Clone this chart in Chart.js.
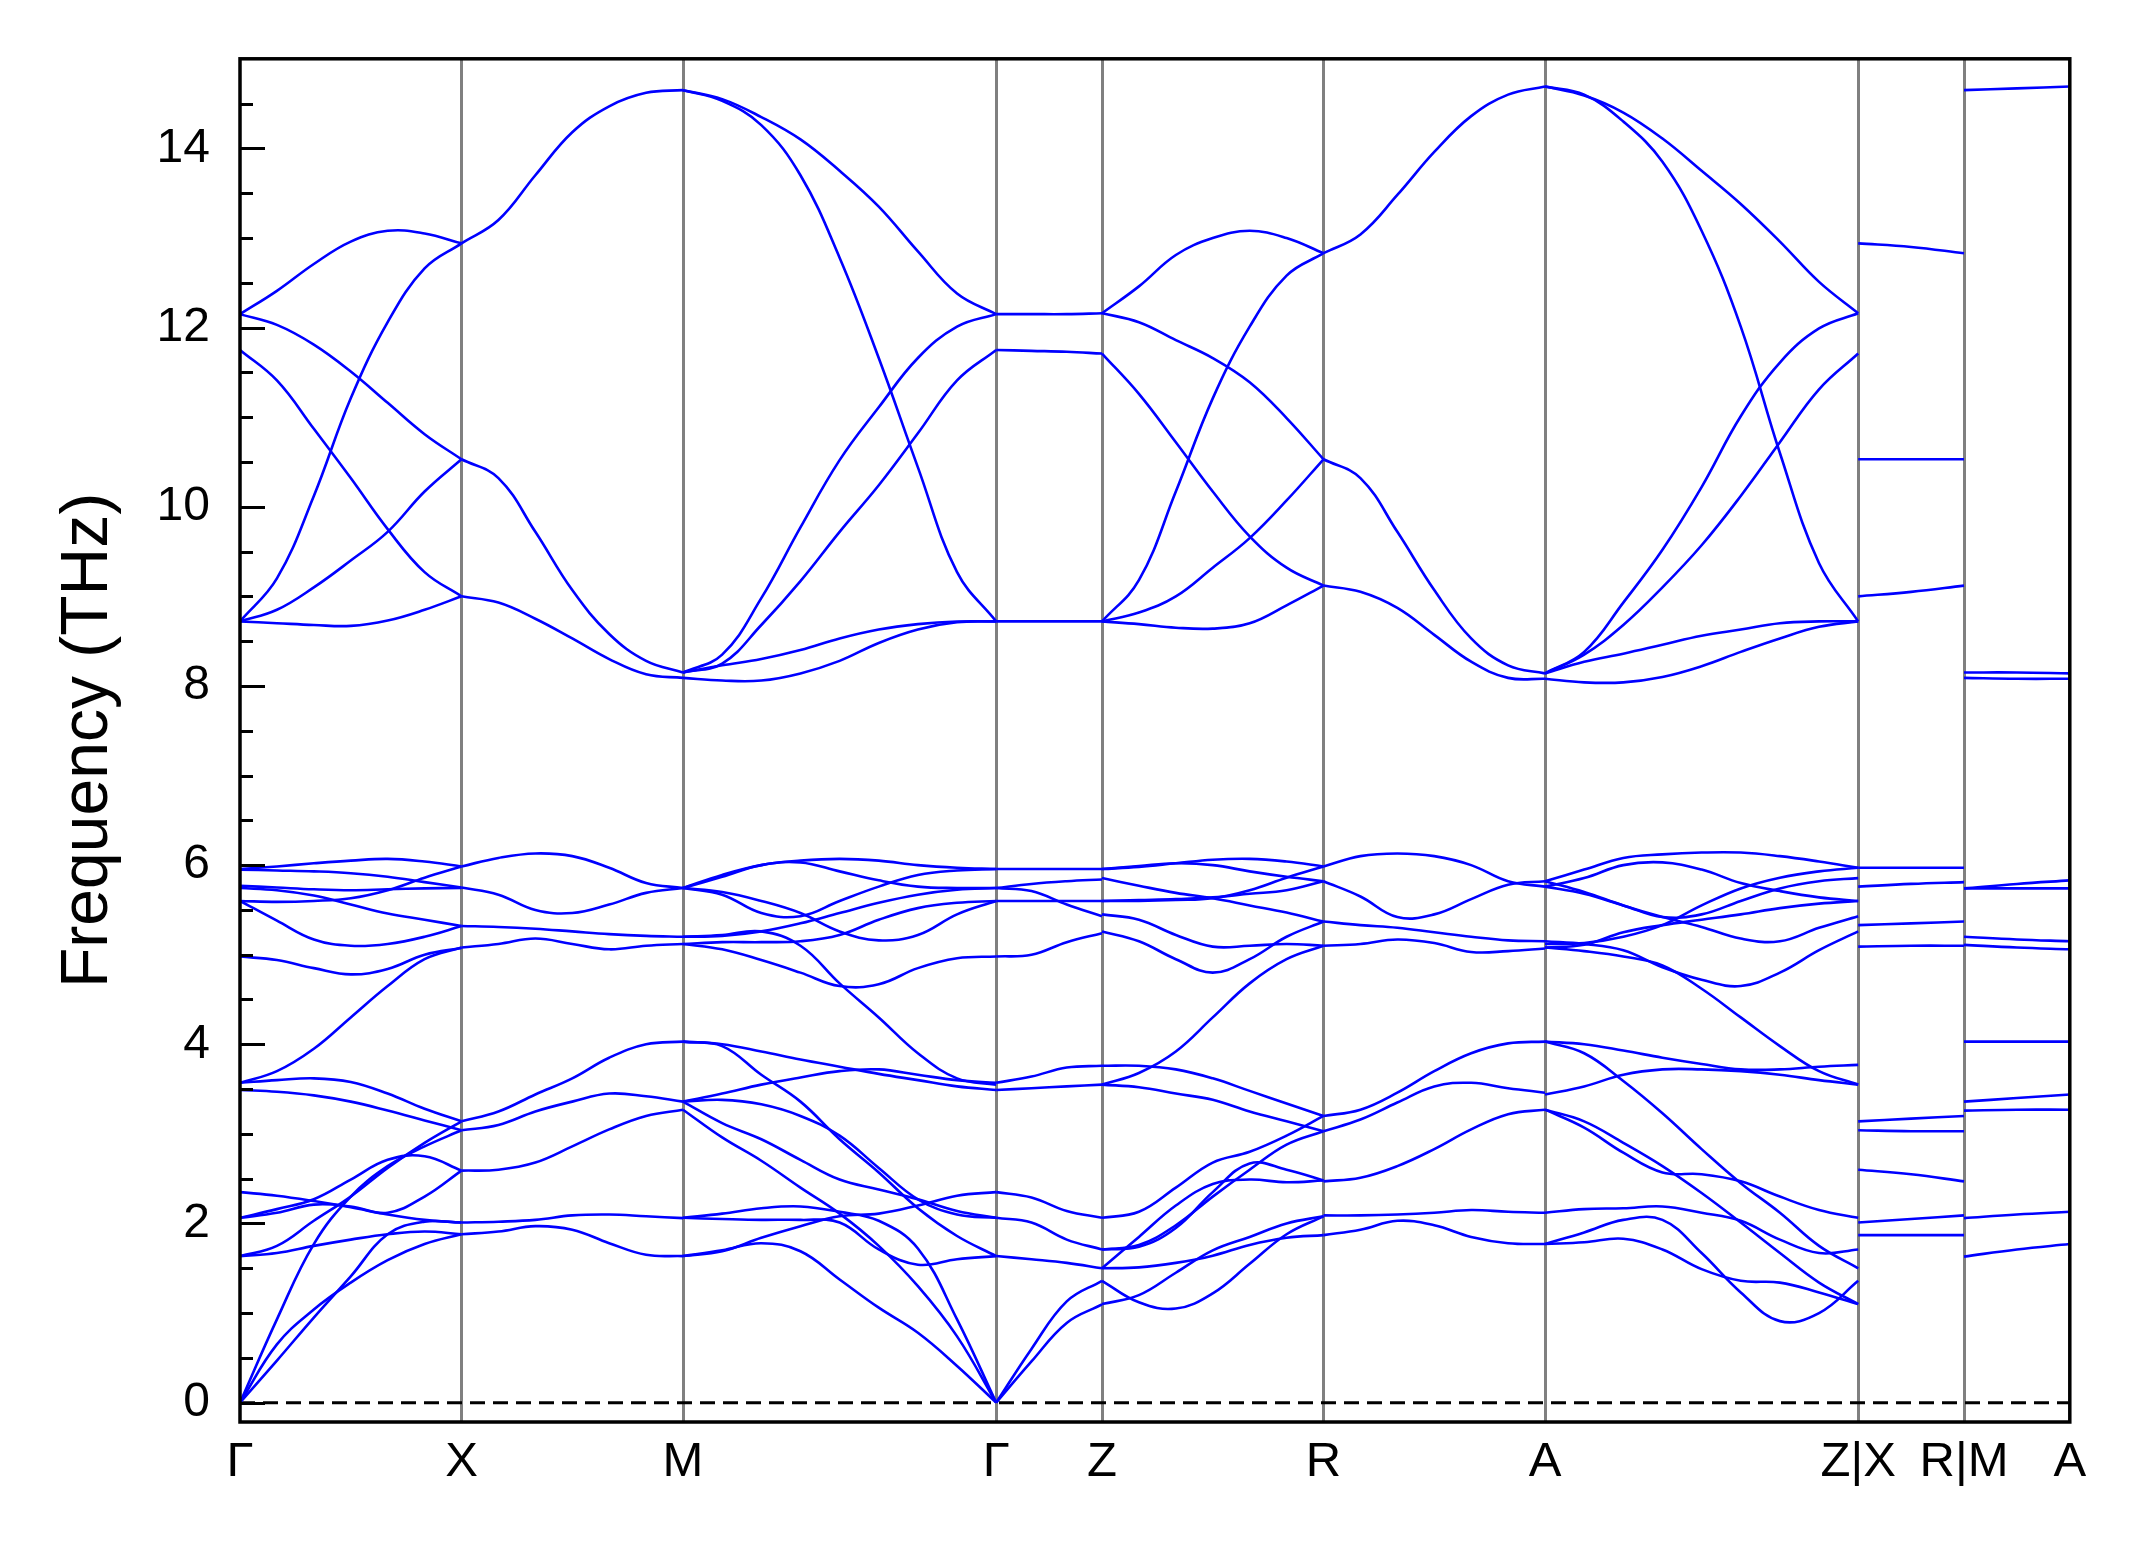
<!DOCTYPE html>
<html>
<head>
<meta charset="utf-8">
<title>Phonon bands</title>
<script src="https://cdn.jsdelivr.net/npm/chart.js@4.4.1/dist/chart.umd.min.js"></script>
<style>
  html, body { margin: 0; padding: 0; background: #fff; }
  #wrap { width: 2145px; height: 1549px; }
</style>
</head>
<body>
<div id="wrap"><canvas id="bandChart" width="2145" height="1549"></canvas></div>
<script>
// path through the BZ (x in path length units)
const kLabels = ["Γ", "X", "M", "Γ", "Z", "R", "A", "Z|X", "R|M", "A"];
const kPos = [0, 221.5, 443, 756.2, 862, 1083.5, 1305, 1618.2, 1724, 1829.8];
const yTicks = [0, 2, 4, 6, 8, 10, 12, 14];

// bands per segment, values in THz, evenly spaced along each segment
const gxBands = [
  [12.15, 12.41, 12.71, 12.96, 13.08, 13.05, 12.94],
  [12.15, 12.03, 11.81, 11.51, 11.16, 10.81, 10.53],
  [11.75, 11.41, 10.87, 10.32, 9.75, 9.27, 9.0],
  [8.72, 9.2, 10.12, 11.21, 12.06, 12.66, 12.94],
  [8.72, 8.85, 9.1, 9.4, 9.72, 10.17, 10.53],
  [8.72, 8.7, 8.68, 8.67, 8.73, 8.85, 9.0],
  [5.956, 5.985, 6.02, 6.05, 6.07, 6.04, 5.985],
  [5.95, 5.94, 5.93, 5.91, 5.87, 5.81, 5.75],
  [5.77, 5.75, 5.73, 5.72, 5.73, 5.74, 5.745],
  [5.744, 5.72, 5.66, 5.56, 5.46, 5.39, 5.32],
  [5.6, 5.59, 5.6, 5.63, 5.72, 5.86, 5.985],
  [5.6, 5.38, 5.17, 5.1, 5.12, 5.2, 5.32],
  [4.98, 4.94, 4.85, 4.78, 4.84, 5.0, 5.075],
  [3.57, 3.7, 3.95, 4.3, 4.65, 4.95, 5.08],
  [3.57, 3.6, 3.62, 3.58, 3.45, 3.28, 3.14],
  [3.49, 3.47, 3.43, 3.36, 3.26, 3.15, 3.04],
  [2.35, 2.31, 2.25, 2.18, 2.1, 2.04, 2.01],
  [2.063, 2.12, 2.21, 2.19, 2.12, 2.3, 2.59],
  [2.063, 2.16, 2.27, 2.49, 2.71, 2.75, 2.59],
  [1.636, 1.75, 2.03, 2.3, 2.62, 2.9, 3.14],
  [1.636, 1.67, 1.75, 1.82, 1.88, 1.91, 1.88],
  [0, 0.93, 1.77, 2.3, 2.64, 2.86, 3.04],
  [0, 0.47, 0.95, 1.41, 1.88, 2.02, 2.01],
  [0, 0.65, 1.04, 1.34, 1.59, 1.77, 1.88]
];

const xmBands = [
  [12.94, 13.2, 13.7, 14.18, 14.47, 14.62, 14.65],
  [10.53, 10.32, 9.72, 9.07, 8.58, 8.28, 8.15],
  [9.0, 8.93, 8.75, 8.53, 8.3, 8.13, 8.09],
  [5.985, 6.08, 6.13, 6.1, 5.97, 5.8, 5.744],
  [5.75, 5.67, 5.5, 5.465, 5.56, 5.69, 5.744],
  [5.32, 5.31, 5.29, 5.26, 5.23, 5.21, 5.2],
  [5.08, 5.12, 5.18, 5.12, 5.06, 5.1, 5.12],
  [3.14, 3.25, 3.44, 3.62, 3.85, 4.0, 4.03],
  [3.04, 3.1, 3.25, 3.36, 3.45, 3.42, 3.36],
  [2.59, 2.6, 2.68, 2.86, 3.05, 3.2, 3.27],
  [2.01, 2.02, 2.04, 2.09, 2.1, 2.08, 2.06],
  [1.88, 1.91, 1.97, 1.93, 1.78, 1.65, 1.636]
];

const mgBands = [
  [14.65, 14.53, 14.26, 13.7, 12.78, 11.66, 10.44, 9.27, 8.72],
  [14.65, 14.55, 14.35, 14.1, 13.75, 13.35, 12.85, 12.38, 12.15],
  [8.15, 8.35, 8.98, 9.77, 10.52, 11.11, 11.66, 12.01, 12.15],
  [8.15, 8.25, 8.68, 9.17, 9.72, 10.24, 10.82, 11.41, 11.75],
  [8.15, 8.23, 8.3, 8.4, 8.53, 8.63, 8.69, 8.72, 8.72],
  [8.09, 8.06, 8.06, 8.14, 8.28, 8.48, 8.63, 8.71, 8.72],
  [5.744, 5.89, 6.0, 6.05, 6.07, 6.05, 6.0, 5.97, 5.956],
  [5.744, 5.87, 6.0, 6.03, 5.93, 5.83, 5.76, 5.744, 5.744],
  [5.744, 5.67, 5.465, 5.43, 5.6, 5.76, 5.89, 5.94, 5.956],
  [5.744, 5.7, 5.6, 5.465, 5.26, 5.16, 5.22, 5.45, 5.6],
  [5.2, 5.21, 5.26, 5.35, 5.465, 5.58, 5.67, 5.725, 5.744],
  [5.12, 5.14, 5.14, 5.15, 5.22, 5.39, 5.52, 5.58, 5.6],
  [5.12, 5.06, 4.94, 4.8, 4.65, 4.67, 4.85, 4.96, 4.98],
  [5.2, 5.22, 5.26, 5.1, 4.68, 4.3, 3.9, 3.62, 3.55],
  [4.03, 4.0, 3.92, 3.83, 3.75, 3.67, 3.6, 3.53, 3.49],
  [3.36, 3.45, 3.55, 3.63, 3.7, 3.72, 3.66, 3.6, 3.57],
  [4.03, 3.98, 3.66, 3.36, 2.94, 2.57, 2.17, 1.86, 1.636],
  [3.36, 3.38, 3.33, 3.2, 2.98, 2.62, 2.27, 2.1, 2.063],
  [3.36, 3.12, 2.94, 2.71, 2.49, 2.38, 2.27, 2.14, 2.063],
  [3.27, 2.96, 2.7, 2.4, 2.11, 1.75, 1.3, 0.74, 0],
  [2.063, 2.11, 2.17, 2.19, 2.13, 2.03, 1.72, 0.93, 0],
  [2.063, 2.05, 2.04, 2.04, 2.01, 1.71, 1.54, 1.6, 1.636],
  [1.636, 1.69, 1.84, 1.97, 2.08, 2.11, 2.2, 2.31, 2.35],
  [1.636, 1.7, 1.78, 1.69, 1.375, 1.06, 0.78, 0.41, 0]
];

const gzBands = [
  [12.15, 12.15, 12.15, 12.16],
  [11.75, 11.74, 11.73, 11.71],
  [8.72, 8.72, 8.72, 8.72],
  [5.956, 5.956, 5.956, 5.956],
  [5.744, 5.79, 5.82, 5.84],
  [5.744, 5.71, 5.56, 5.43],
  [5.6, 5.6, 5.6, 5.6],
  [4.98, 5.0, 5.14, 5.24],
  [3.57, 3.64, 3.74, 3.76],
  [3.49, 3.51, 3.53, 3.55],
  [2.35, 2.29, 2.14, 2.063],
  [2.063, 2.01, 1.82, 1.71],
  [1.636, 1.6, 1.56, 1.5],
  [0, 0.6, 1.13, 1.36],
  [0, 0.46, 0.89, 1.096]
];

const zrBands = [
  [12.16, 12.46, 12.81, 13.0, 13.08, 13.0, 12.83],
  [12.16, 12.06, 11.86, 11.66, 11.39, 10.99, 10.53],
  [11.71, 11.26, 10.72, 10.17, 9.67, 9.32, 9.12],
  [8.72, 9.18, 10.17, 11.21, 12.01, 12.58, 12.83],
  [8.72, 8.82, 9.0, 9.32, 9.65, 10.07, 10.53],
  [8.72, 8.69, 8.65, 8.64, 8.7, 8.9, 9.12],
  [5.956, 5.98, 6.02, 6.06, 6.07, 6.04, 5.985],
  [5.956, 5.99, 6.02, 6.0, 5.93, 5.87, 5.82],
  [5.855, 5.77, 5.69, 5.63, 5.55, 5.47, 5.37],
  [5.6, 5.6, 5.61, 5.63, 5.72, 5.86, 5.985],
  [5.6, 5.61, 5.62, 5.64, 5.68, 5.72, 5.82],
  [5.45, 5.39, 5.22, 5.09, 5.1, 5.12, 5.1],
  [5.26, 5.15, 4.95, 4.8, 4.95, 5.2, 5.37],
  [3.55, 3.68, 3.92, 4.3, 4.68, 4.95, 5.1],
  [3.76, 3.76, 3.72, 3.62, 3.48, 3.34, 3.2],
  [3.55, 3.52, 3.45, 3.38, 3.25, 3.14, 3.03],
  [2.063, 2.13, 2.4, 2.68, 2.8, 2.98, 3.2],
  [1.71, 1.76, 1.98, 2.3, 2.6, 2.88, 3.03],
  [1.71, 1.74, 1.95, 2.35, 2.67, 2.6, 2.48],
  [1.5, 1.85, 2.2, 2.44, 2.49, 2.46, 2.48],
  [1.5, 1.51, 1.56, 1.64, 1.76, 1.84, 1.87],
  [1.36, 1.12, 1.05, 1.22, 1.55, 1.88, 2.08],
  [1.1, 1.2, 1.45, 1.7, 1.85, 2.0, 2.08]
];

const raBands = [
  [12.83, 13.04, 13.48, 13.96, 14.36, 14.6, 14.69],
  [10.53, 10.32, 9.72, 9.07, 8.53, 8.23, 8.14],
  [9.12, 9.05, 8.87, 8.57, 8.27, 8.09, 8.08],
  [5.985, 6.1, 6.13, 6.1, 6.0, 5.82, 5.76],
  [5.82, 5.65, 5.42, 5.45, 5.62, 5.78, 5.82],
  [5.37, 5.33, 5.3, 5.25, 5.2, 5.16, 5.15],
  [5.1, 5.12, 5.17, 5.13, 5.03, 5.04, 5.07],
  [3.2, 3.27, 3.46, 3.7, 3.9, 4.01, 4.03],
  [3.03, 3.16, 3.35, 3.53, 3.57, 3.51, 3.46],
  [2.47, 2.51, 2.64, 2.83, 3.05, 3.22, 3.27],
  [2.09, 2.09, 2.1, 2.12, 2.15, 2.13, 2.12],
  [1.87, 1.93, 2.03, 1.98, 1.85, 1.78, 1.77]
];

const azBands = [
  [14.69, 14.6, 14.3, 13.85, 13.08, 12.01, 10.6, 9.37, 8.72],
  [14.69, 14.59, 14.4, 14.11, 13.75, 13.38, 12.96, 12.51, 12.16],
  [8.14, 8.38, 8.93, 9.52, 10.22, 11.01, 11.61, 11.99, 12.16],
  [8.14, 8.35, 8.68, 9.1, 9.57, 10.12, 10.72, 11.31, 11.71],
  [8.14, 8.27, 8.36, 8.46, 8.56, 8.63, 8.7, 8.72, 8.72],
  [8.08, 8.04, 8.04, 8.1, 8.22, 8.38, 8.53, 8.66, 8.72],
  [5.82, 5.95, 6.08, 6.12, 6.14, 6.14, 6.1, 6.04, 5.97],
  [5.76, 5.855, 6.0, 6.03, 5.95, 5.8, 5.71, 5.64, 5.6],
  [5.82, 5.7, 5.55, 5.42, 5.31, 5.18, 5.15, 5.3, 5.43],
  [5.76, 5.68, 5.55, 5.42, 5.45, 5.6, 5.74, 5.82, 5.855],
  [5.12, 5.13, 5.2, 5.33, 5.55, 5.74, 5.86, 5.93, 5.97],
  [5.08, 5.11, 5.25, 5.33, 5.39, 5.45, 5.52, 5.57, 5.6],
  [5.15, 5.12, 5.05, 4.86, 4.72, 4.65, 4.8, 5.05, 5.26],
  [5.08, 5.04, 4.98, 4.88, 4.62, 4.3, 3.98, 3.7, 3.55],
  [4.03, 4.0, 3.93, 3.85, 3.78, 3.72, 3.72, 3.75, 3.77],
  [3.44, 3.53, 3.66, 3.72, 3.72, 3.7, 3.66, 3.6, 3.55],
  [4.03, 3.9, 3.59, 3.23, 2.83, 2.45, 2.12, 1.75, 1.5],
  [3.27, 3.14, 2.9, 2.64, 2.34, 2.01, 1.67, 1.34, 1.1],
  [3.27, 3.07, 2.79, 2.57, 2.55, 2.47, 2.3, 2.15, 2.063],
  [2.12, 2.16, 2.17, 2.19, 2.12, 2.03, 1.82, 1.67, 1.71],
  [1.77, 1.9, 2.04, 2.04, 1.67, 1.23, 0.91, 1.0, 1.36],
  [1.77, 1.79, 1.83, 1.71, 1.49, 1.36, 1.34, 1.23, 1.1]
];

const xrBands = [
  [12.94, 12.9, 12.83],
  [10.53, 10.53, 10.53],
  [9.0, 9.05, 9.12],
  [5.97, 5.97, 5.97],
  [5.76, 5.79, 5.81],
  [5.33, 5.35, 5.37],
  [5.09, 5.1, 5.1],
  [3.14, 3.17, 3.2],
  [3.04, 3.03, 3.03],
  [2.6, 2.55, 2.47],
  [2.01, 2.05, 2.09],
  [1.87, 1.87, 1.87]
];

const maBands = [
  [14.65, 14.67, 14.69],
  [8.15, 8.15, 8.14],
  [8.09, 8.08, 8.08],
  [5.74, 5.79, 5.83],
  [5.74, 5.74, 5.74],
  [5.2, 5.17, 5.15],
  [5.11, 5.08, 5.06],
  [4.03, 4.03, 4.03],
  [3.36, 3.4, 3.44],
  [3.26, 3.27, 3.27],
  [2.06, 2.1, 2.13],
  [1.63, 1.71, 1.77]
];

const segments = [
  [0, 1, gxBands], [1, 2, xmBands], [2, 3, mgBands],
  [3, 4, gzBands], [4, 5, zrBands], [5, 6, raBands],
  [6, 7, azBands], [7, 8, xrBands], [8, 9, maBands]
];

const fontFam = "'Liberation Sans', Arial, Helvetica, sans-serif";

const datasets = [];
segments.forEach(([a, b, bands]) => {
  const x0 = kPos[a], x1 = kPos[b];
  bands.forEach(vals => {
    const n = vals.length - 1;
    datasets.push({
      data: vals.map((v, i) => ({ x: x0 + (x1 - x0) * i / n, y: v })),
      borderColor: "#0000ff",
      borderWidth: 2.6,
      pointRadius: 0,
      fill: false,
      tension: 0.4
    });
  });
});

// zero line
datasets.push({
  data: [{ x: kPos[0], y: 0 }, { x: kPos[kPos.length - 1], y: 0 }],
  borderColor: "#000",
  borderWidth: 3,
  borderDash: [15, 8],
  pointRadius: 0,
  fill: false
});

// box + inward ticks on the left axis
const framePlugin = {
  id: "frame",
  afterDatasetsDraw(chart) {
    const { ctx, chartArea: a, scales } = chart;
    const y = scales.y;
    ctx.save();
    ctx.strokeStyle = "#000";
    ctx.lineWidth = 3;
    for (let v = 0; v < 15; v += 0.5) {
      const p = Math.round(y.getPixelForValue(v)) + 0.5;
      const len = v % 2 === 0 ? 25 : 13;
      ctx.beginPath();
      ctx.moveTo(a.left, p);
      ctx.lineTo(a.left + len, p);
      ctx.stroke();
    }
    ctx.lineWidth = 3.5;
    ctx.strokeRect(a.left, a.top, a.right - a.left, a.bottom - a.top);
    ctx.restore();
  }
};

new Chart(document.getElementById("bandChart"), {
  type: "line",
  data: { datasets },
  options: {
    responsive: false,
    devicePixelRatio: 1,
    animation: false,
    events: [],
    layout: { padding: { top: 58.6, right: 75.2, bottom: 0, left: 0 } },
    plugins: { legend: { display: false }, tooltip: { enabled: false } },
    scales: {
      x: {
        type: "linear",
        min: kPos[0],
        max: kPos[kPos.length - 1],
        afterBuildTicks: s => { s.ticks = kPos.map(v => ({ value: v })); },
        afterFit: s => { s.height = 127; },
        ticks: {
          autoSkip: false,
          maxRotation: 0,
          padding: 11,
          color: "#000",
          font: { family: fontFam, size: 49 },
          callback: (v, i) => kLabels[i]
        },
        grid: {
          drawTicks: false,
          lineWidth: 3,
          color: c => (c.index === 0 || c.index === kPos.length - 1) ? "rgba(0,0,0,0)" : "#808080"
        },
        border: { display: false }
      },
      y: {
        min: -0.216,
        max: 15,
        afterBuildTicks: s => { s.ticks = yTicks.map(v => ({ value: v })); },
        afterFit: s => { s.width = 240; },
        ticks: {
          padding: 30,
          color: "#000",
          font: { family: fontFam, size: 48 }
        },
        grid: { display: false, drawTicks: false },
        border: { display: false },
        title: {
          display: true,
          text: "Frequency (THz)",
          color: "#000",
          font: { family: fontFam, size: 66, lineHeight: 1.2 },
          padding: { top: 49, bottom: 0 }
        }
      }
    }
  },
  plugins: [framePlugin]
});
</script>
</body>
</html>
